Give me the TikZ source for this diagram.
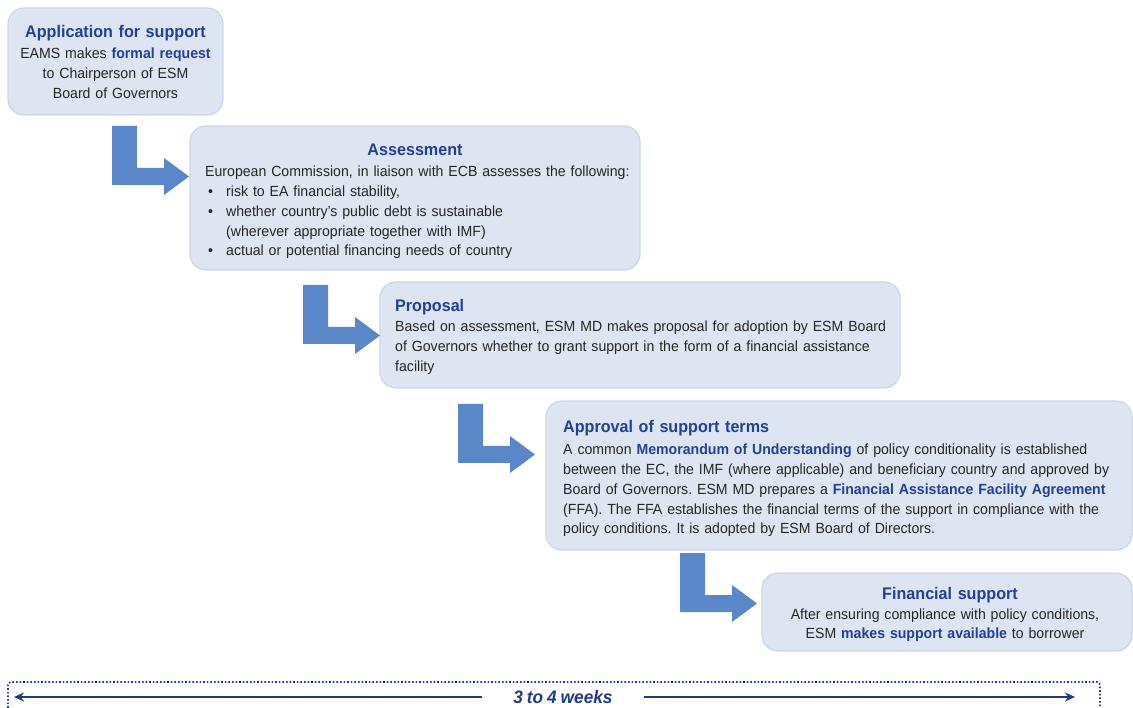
\documentclass[tikz,border=0pt]{standalone}
\usepackage{fontspec}
\setmainfont{Liberation Sans}[FakeStretch=0.96, WordSpace=0.82]
\usetikzlibrary{arrows.meta}
\frenchspacing

\definecolor{ttlblue}{HTML}{233F98}
\definecolor{bodytext}{HTML}{262626}
\definecolor{boxfill}{HTML}{DCE5F1}
\definecolor{boxedge}{HTML}{CAD7E9}
\definecolor{arrowfill}{HTML}{5A87C8}
\definecolor{navy}{HTML}{1F3A8A}

% emphasised phrase inside body text
\newcommand{\hlt}[1]{{\bfseries\color{ttlblue}#1}}
% bullet with hanging indent
\newcommand{\bul}{\makebox[21pt][l]{\hspace{3pt}\textbullet}}

\tikzset{
  stepbox/.style={rectangle, rounded corners=16pt, fill=boxfill, draw=boxedge,
    line width=1.2pt, inner sep=0pt, outer sep=0pt},
  ttl/.style={font=\fontsize{16.8}{20}\selectfont\bfseries, text=ttlblue,
    inner sep=0pt, text width=560pt},
  body/.style={font=\fontsize{14.7}{19.7}\selectfont, text=bodytext,
    inner sep=0pt, text width=560pt},
  pics/bentarrow/.style={code={
    \fill[arrowfill] (0,0) -- (25,0) -- (25,42) -- (52,42) -- (52,32)
      -- (77,50.5) -- (52,69) -- (52,59) -- (0,59) -- cycle;
  }},
  span/.style={draw=navy, line width=2.7pt,
    -{Stealth[length=10pt,width=9pt]}},
}

\begin{document}
\begin{tikzpicture}[x=1pt,y=-1pt]
\useasboundingbox (0,0) rectangle (1133,708);
\fill[white] (0,0) rectangle (1133,708);

% step boxes
\node[stepbox, minimum width=215pt, minimum height=107pt] (app) at (115.5,61.5) {};
\node[stepbox, minimum width=450pt, minimum height=144pt] (assess) at (415,198) {};
\node[stepbox, minimum width=520pt, minimum height=106pt] (prop) at (640,335) {};
\node[stepbox, minimum width=586pt, minimum height=149pt] (approv) at (839,475.5) {};
\node[stepbox, minimum width=370pt, minimum height=78pt] (fin) at (947,612) {};

% bent arrows between the steps
\pic at (112,126) {bentarrow};
\pic at (303,285) {bentarrow};
\pic at (458,404) {bentarrow};
\pic at (680,553) {bentarrow};

% Application for support
\node[ttl, anchor=base, align=center] (appT) at (115.5,38) {Application for support};
\node[body, anchor=base, align=center] (appB) at (115.5,59)
  {EAMS makes \hlt{formal request}\\to Chairperson of ESM\\Board of Governors};

% Assessment
\node[ttl, anchor=base, align=center] (assT) at (415,156) {Assessment};
\node[body, anchor=base west, align=left] (assB) at (205,177)
  {European Commission, in liaison with ECB assesses the following:\\
   \bul risk to EA financial stability,\\
   \bul whether country’s public debt is sustainable\\
   \hspace*{21pt}(wherever appropriate together with IMF)\\
   \bul actual or potential financing needs of country};

% Proposal
\node[ttl, anchor=base west, align=left] (propT) at (395,312) {Proposal};
\node[body, anchor=base west, align=left] (propB) at (395,332)
  {Based on assessment, ESM MD makes proposal for adoption by ESM Board\\
   of Governors whether to grant support in the form of a financial assistance\\
   facility};

% Approval of support terms
\node[ttl, anchor=base west, align=left] (aprT) at (563,433) {Approval of support terms};
\node[body, anchor=base west, align=left] (aprB) at (563,455)
  {A common \hlt{Memorandum of Understanding} of policy conditionality is established\\
   between the EC, the IMF (where applicable) and beneficiary country and approved by\\
   Board of Governors. ESM MD prepares a \hlt{Financial Assistance Facility Agreement}\\
   (FFA). The FFA establishes the financial terms of the support in compliance with the\\
   policy conditions. It is adopted by ESM Board of Directors.};

% Financial support
\node[ttl, anchor=base, align=center] (finT) at (950,599) {Financial support};
\node[body, anchor=base, align=center] (finB) at (945,619)
  {After ensuring compliance with policy conditions,\\
   ESM \hlt{makes support available} to borrower};

% duration bar
\draw[navy, line width=1.6pt, dotted, rounded corners=3pt]
  (8,715) -- (8,682) -- (1100,682) -- (1100,715);
\node[font=\fontsize{18}{20}\selectfont\bfseries\itshape, text=navy,
  inner xsep=31pt, inner ysep=0pt] (wk) at (563,697) {3 to 4 weeks};
\coordinate (wl) at (14,697);
\coordinate (wr) at (1075,697);
\draw[span] (wk.west) -- (wl);
\draw[span] (wk.east) -- (wr);
\end{tikzpicture}
\end{document}
